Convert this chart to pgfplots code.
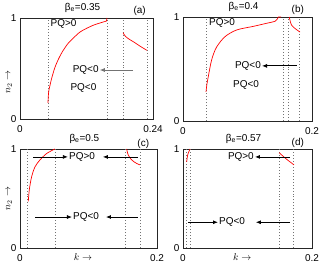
\documentclass[border=0pt]{standalone}
\usepackage{fontspec}
\setmainfont{Liberation Sans}
\usepackage{pgfplots}
\pgfplotsset{compat=1.18}
\usetikzlibrary{arrows.meta}

\pgfplotsset{
  panel/.style={
    scale only axis, anchor=south west,
    xmin=0, ymin=0, ymax=1,
    ytick={0,1},
    tick style={draw=none},
    axis line style={black!85, line width=0.8pt},
    every tick label/.append style={font=\fontsize{10}{12}\selectfont},
    /pgf/number format/assume math mode=true,
    xticklabel style={yshift=-3bp},
    clip=false,
  },
  redc/.style={red, line width=0.7pt, no marks, smooth},
  dotl/.style={black!55, dash pattern=on 0.7pt off 2.3pt, line width=0.6pt, no marks},
}
\tikzset{
  arr/.style={-{Latex[length=5bp,width=4bp]}, line width=0.8pt},
  lbl/.style={font=\fontsize{10}{12}\selectfont, inner sep=1bp},
}

\begin{document}
\begin{tikzpicture}
\path[use as bounding box] (0,0) rectangle (321bp,266bp);

% ---------------- (a)
\begin{axis}[panel, at={(20bp,147bp)}, width=133bp, height=101bp,
  xmax=0.24, xtick={0,0.24}]
\addplot[dotl] coordinates {(0.0505,0) (0.0505,1)};
\addplot[dotl] coordinates {(0.157,0) (0.157,1)};
\addplot[dotl] coordinates {(0.186,0) (0.186,1)};
\addplot[dotl] coordinates {(0.229,0) (0.229,1)};
\addplot[redc] coordinates {(0.0505,0.16) (0.051,0.22) (0.052,0.28) (0.054,0.33) (0.057,0.40) (0.063,0.51) (0.070,0.60) (0.078,0.68) (0.087,0.75) (0.096,0.80) (0.108,0.86) (0.121,0.90) (0.133,0.93) (0.144,0.95) (0.153,0.965) (0.156,0.97)};
\addplot[red, line width=0.7pt, no marks] coordinates {(0.156,0.97) (0.157,1)};
\addplot[redc] coordinates {(0.186,0.855) (0.19,0.82) (0.197,0.79) (0.206,0.76) (0.217,0.72) (0.229,0.68)};
\draw[arr, black!55] (axis cs:0.204,0.485) -- (axis cs:0.144,0.485);
\node[lbl, anchor=east] at (axis cs:0.144,0.485) {PQ<0};
\node[lbl] at (axis cs:0.0785,0.94) {PQ>0};
\node[lbl] at (axis cs:0.1145,0.31) {PQ<0};
\node[lbl] at ([yshift=10.5bp]rel axis cs:0.47,1) {β\textsubscript{e}=0.35};
\node[lbl] at ([yshift=7bp]rel axis cs:0.9,1) {(a)};
\node[lbl, rotate=90] at ([xshift=-11bp]rel axis cs:0,0.37) {$n_2\rightarrow$};
\end{axis}

% ---------------- (b)
\begin{axis}[panel, at={(183bp,145bp)}, width=129bp, height=104bp,
  xmax=0.2, xtick={0,0.2}]
\addplot[dotl] coordinates {(0.0357,0) (0.0357,1)};
\addplot[dotl] coordinates {(0.155,0) (0.155,1)};
\addplot[dotl] coordinates {(0.164,0) (0.164,1)};
\addplot[dotl] coordinates {(0.181,0) (0.181,1)};
\addplot[redc] coordinates {(0.0357,0.28) (0.037,0.35) (0.039,0.42) (0.0445,0.59) (0.052,0.71) (0.065,0.81) (0.083,0.875) (0.109,0.91) (0.13,0.94) (0.143,0.96) (0.147,0.99)};
\addplot[red, line width=0.7pt, no marks] coordinates {(0.147,0.99) (0.148,1) (0.152,1)};
\addplot[redc] coordinates {(0.1648,1.0) (0.1662,0.96) (0.1685,0.92) (0.1736,0.89) (0.1814,0.855)};
\draw[arr] (axis cs:0.1767,0.53) -- (axis cs:0.1225,0.53);
\node[lbl, anchor=east] at (axis cs:0.1225,0.53) {PQ<0};
\node[lbl] at (axis cs:0.0605,0.94) {PQ>0};
\node[lbl] at (axis cs:0.0977,0.35) {PQ<0};
\node[lbl] at ([yshift=10.5bp]rel axis cs:0.47,1) {β\textsubscript{e}=0.4};
\node[lbl] at ([yshift=7bp]rel axis cs:0.89,1) {(b)};
\end{axis}

% ---------------- (c)
\begin{axis}[panel, at={(20bp,18bp)}, width=137bp, height=99bp,
  xmax=0.2, xtick={0,0.2}]
\addplot[dotl] coordinates {(0.0102,0) (0.0102,1)};
\addplot[dotl] coordinates {(0.0511,0) (0.0511,1)};
\addplot[dotl] coordinates {(0.1533,0) (0.1533,1)};
\addplot[dotl] coordinates {(0.175,0) (0.175,1)};
\addplot[redc] coordinates {(0.0121,0.47) (0.0136,0.59) (0.017,0.72) (0.0219,0.82) (0.0292,0.89) (0.039,0.955) (0.051,1.0)};
\addplot[redc] coordinates {(0.1557,1) (0.158,0.94) (0.163,0.89) (0.170,0.855) (0.175,0.84)};
\draw[arr] (axis cs:0.019,0.92) -- (axis cs:0.070,0.92);
\node[lbl, anchor=west] at (axis cs:0.070,0.92) {PQ>0};
\draw[arr] (axis cs:0.172,0.92) -- (axis cs:0.121,0.92);
\draw[arr] (axis cs:0.0219,0.313) -- (axis cs:0.0759,0.313);
\node[lbl, anchor=west] at (axis cs:0.0759,0.313) {PQ<0};
\draw[arr] (axis cs:0.172,0.313) -- (axis cs:0.1255,0.313);
\node[lbl] at ([yshift=10.5bp]rel axis cs:0.47,1) {β\textsubscript{e}=0.5};
\node[lbl] at ([yshift=5bp]rel axis cs:0.9,1) {(c)};
\node[lbl, rotate=90] at ([xshift=-11bp]rel axis cs:0,0.5) {$n_2\rightarrow$};
\node[lbl] at ([yshift=-9bp]rel axis cs:0.46,0) {$k\rightarrow$};
\end{axis}

% ---------------- (d)
\begin{axis}[panel, at={(183bp,18bp)}, width=129bp, height=99bp,
  xmax=0.2, xtick={0,0.2}]
\addplot[dotl] coordinates {(0.0047,0) (0.0047,1)};
\addplot[dotl] coordinates {(0.0109,0) (0.0109,1)};
\addplot[dotl] coordinates {(0.149,0) (0.149,1)};
\addplot[dotl] coordinates {(0.171,0) (0.171,1)};
\addplot[redc] coordinates {(0.0057,0.87) (0.0073,0.94) (0.0109,1.0)};
\addplot[redc] coordinates {(0.149,0.963) (0.160,0.90) (0.172,0.84)};
\draw[arr] (axis cs:0.166,0.92) -- (axis cs:0.1116,0.92);
\node[lbl, anchor=east] at (axis cs:0.1116,0.92) {PQ>0};
\draw[arr] (axis cs:0.0078,0.26) -- (axis cs:0.0543,0.26);
\node[lbl, anchor=west] at (axis cs:0.0543,0.26) {PQ<0};
\draw[arr] (axis cs:0.166,0.26) -- (axis cs:0.113,0.26);
\node[lbl] at ([yshift=10.5bp]rel axis cs:0.47,1) {β\textsubscript{e}=0.57};
\node[lbl] at ([yshift=6bp]rel axis cs:0.89,1) {(d)};
\node[lbl] at ([yshift=-9bp]rel axis cs:0.46,0) {$k\rightarrow$};
\end{axis}
\end{tikzpicture}
\end{document}
